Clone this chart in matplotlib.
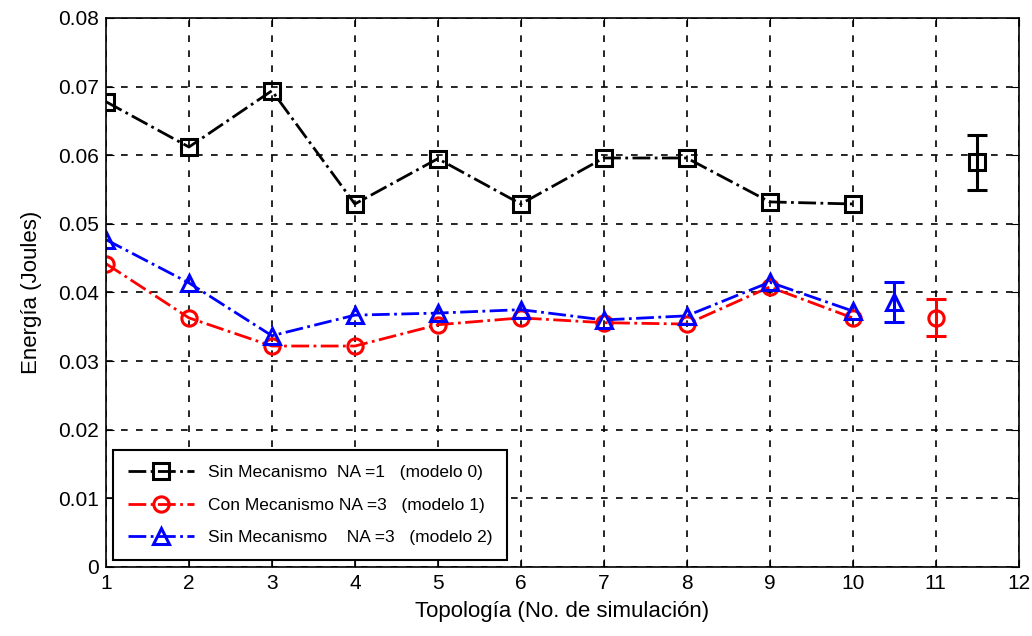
import matplotlib
matplotlib.use('Agg')
import matplotlib.pyplot as plt

plt.rcParams['font.family'] = ['Liberation Sans', 'DejaVu Sans']

# data
topologia = [1, 2, 3, 4, 5, 6, 7, 8, 9, 10]
modelo0 = [0.0678, 0.0612, 0.0694, 0.0529, 0.0595, 0.0529, 0.0596, 0.0596, 0.0532, 0.0529]
modelo1 = [0.0442, 0.0363, 0.0322, 0.0322, 0.0353, 0.0363, 0.0356, 0.0354, 0.0408, 0.0363]
modelo2 = [0.0477, 0.0414, 0.0337, 0.0367, 0.0370, 0.0375, 0.0360, 0.0366, 0.0415, 0.0373]

# mean and spread
media_x = [11.5, 11.0, 10.5]
media_y = [0.0590, 0.0363, 0.0386]
media_err = [0.0040, 0.0027, 0.0029]
colores = ['black', 'red', 'blue']
marcas = ['s', 'o', '^']

fig = plt.figure(figsize=(10.32, 6.36), dpi=100)
ax = fig.add_axes([0.1027, 0.1085, 0.8843, 0.8632])

ax.plot(topologia, modelo0, color='black', ls='-.', lw=2, marker='s', ms=11,
        mfc='none', mew=2.2, label='Sin Mecanismo  NA =1   (modelo 0)')
ax.plot(topologia, modelo1, color='red', ls='-.', lw=2, marker='o', ms=11,
        mfc='none', mew=2.2, label='Con Mecanismo NA =3   (modelo 1)')
ax.plot(topologia, modelo2, color='blue', ls='-.', lw=2, marker='^', ms=11,
        mfc='none', mew=2.2, label='Sin Mecanismo    NA =3   (modelo 2)')

for xm, ym, em, c, m in zip(media_x, media_y, media_err, colores, marcas):
    ax.errorbar(xm, ym, yerr=em, color=c, marker=m, ms=11, mfc='none', mew=2.2,
                elinewidth=2.2, capsize=7, capthick=2.2)

ax.set_xlim(1, 12)
ax.set_ylim(0, 0.08)
ax.set_xticks(range(1, 13))
ax.set_yticks([0, 0.01, 0.02, 0.03, 0.04, 0.05, 0.06, 0.07, 0.08])
ax.set_yticklabels(['0', '0.01', '0.02', '0.03', '0.04', '0.05', '0.06', '0.07', '0.08'])
ax.grid(True, color='black', ls=(0, (4, 5)), lw=1.2)
ax.tick_params(direction='in', labelsize=15, length=6, top=True, right=True, pad=5)
for s in ax.spines.values():
    s.set_linewidth(1.2)

ax.set_xlabel('Topología (No. de simulación)', fontsize=16, labelpad=6)
ax.set_ylabel('Energía (Joules)', fontsize=16, labelpad=12)

leg = ax.legend(loc='lower left', fontsize=12.5, fancybox=False, edgecolor='black',
                framealpha=1, handlelength=3.8, borderpad=0.85, labelspacing=1.0,
                borderaxespad=0.4)
leg.get_frame().set_linewidth(1.5)

fig.savefig('out.png', dpi=100)
